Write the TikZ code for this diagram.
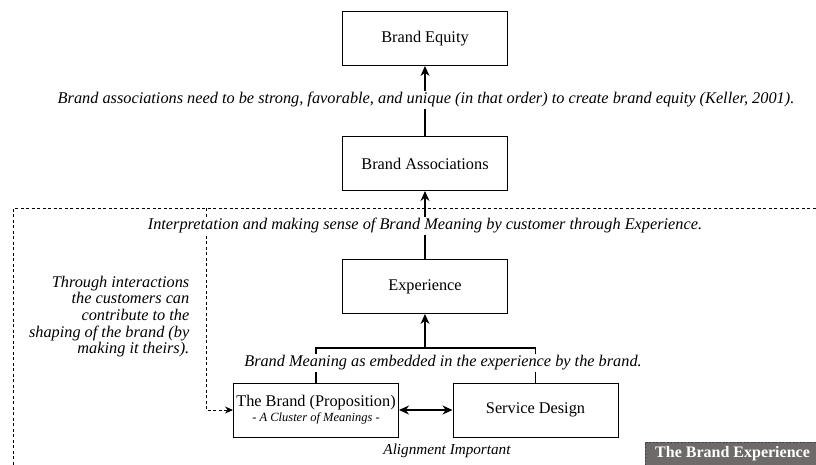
\documentclass[tikz,border=0pt]{standalone}
\usepackage{fontspec}
\setmainfont{Liberation Serif}
\usetikzlibrary{arrows.meta}
\definecolor{labelgray}{HTML}{6E6A69}
\definecolor{labeledge}{HTML}{3C4650}
\begin{document}
\begin{tikzpicture}[x=1pt,y=-1pt,
  box/.style={draw, line width=1pt, minimum width=165pt, minimum height=54pt,
    inner sep=0pt, align=center, font=\fontsize{16.3}{18}\selectfont},
  note/.style={font=\fontsize{16.3}{16.7}\selectfont\itshape, inner sep=1.5pt},
  blank/.style={fill=white},
  link/.style={line width=1.1pt},
  flow/.style={link, -{Stealth[length=10pt,width=9pt]}},
  both/.style={link, {Stealth[length=10pt,width=9pt]}-{Stealth[length=10pt,width=9pt]}},
  frame/.style={line width=1pt, dash pattern=on 3pt off 2.5pt},
  tag/.style={fill=labelgray, draw=labeledge, dash pattern=on 2pt off 1.5pt,
    text=white, font=\bfseries\fontsize{16}{18}\selectfont,
    minimum height=24pt, inner xsep=10pt}
]
\useasboundingbox (0,0) rectangle (816,464);

% boxes
\node[box] (equity)  at (425,38.5)  {Brand Equity};
\node[box] (assoc)   at (425,163.5) {Brand Associations};
\node[box] (exp)     at (425,286.5) {Experience};
\node[box] (brand)   at (316,410)   {The Brand (Proposition)\\[-3pt]{\fontsize{12.5}{13}\selectfont\itshape - A Cluster of Meanings -}};
\node[box] (service) at (535.5,410) {Service Design};

% dashed frame of the experience area
\coordinate (fbl) at (13,470);
\coordinate (ftl) at (13,208);
\coordinate (ftr) at (820,208);
\draw[frame] (fbl) -- (ftl) -- (ftr);

% customer feedback loop
\coordinate (loop) at (206,208);
\draw[frame, -{Stealth[length=8pt,width=7pt]}] (loop) |- (brand.west);

% main flow
\draw[flow] (assoc.north) -- (equity.south);
\draw[flow] (exp.north) -- (assoc.south);
\coordinate (split) at (425,348);
\draw[flow] (split) -- (exp.south);
\draw[link] (brand.north) |- (service.north |- split) -- (service.north);
\draw[both] (brand.east) -- (service.west);

% labels
\node[note, blank] (keller) at (426,100) {Brand associations need to be strong, favorable, and unique (in that order) to create brand equity (Keller, 2001).};
\node[note, blank] (interp) at (425,226) {Interpretation and making sense of Brand Meaning by customer through Experience.};
\node[note, blank] (meaning) at (443,363) {Brand Meaning as embedded in the experience by the brand.};
\node[note, font=\fontsize{15.2}{16.7}\selectfont\itshape] (align) at (447,451) {Alignment Important};
\node[note, align=right, anchor=east] (interact) at (191,316.5) {Through interactions\\the customers can\\contribute to the\\shaping of the brand (by\\making it theirs).};

\node[tag, anchor=south west] (title) at (645,466) {The Brand Experience};
\end{tikzpicture}
\end{document}
